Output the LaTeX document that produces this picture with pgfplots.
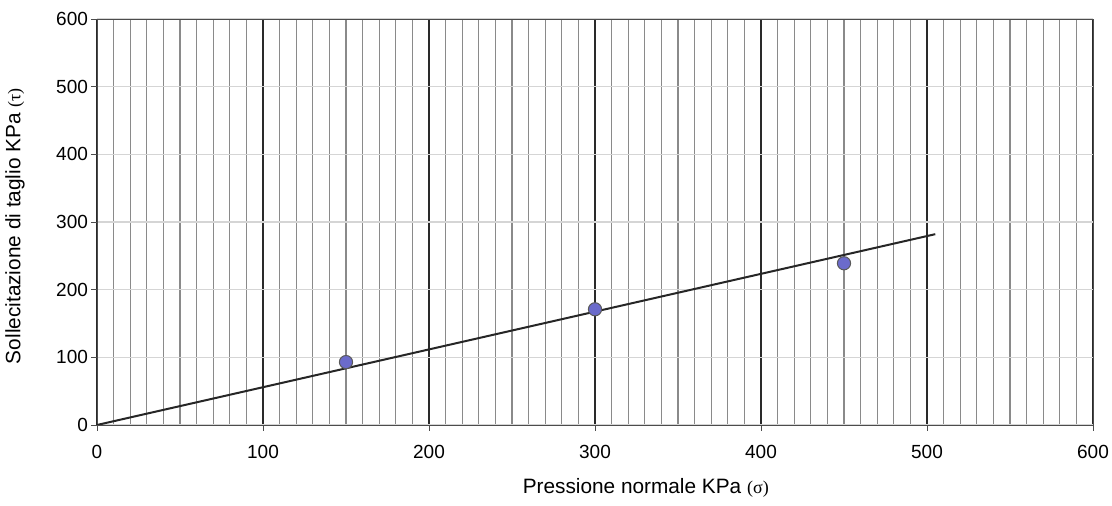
\documentclass[border=0pt]{standalone}
\usepackage{fontspec}
\setmainfont{Liberation Sans}
\newfontfamily\serifgreek{Liberation Serif}
\usepackage{pgfplots}
\pgfplotsset{compat=1.18}
\definecolor{minorgrid}{HTML}{8A8A8A}
\definecolor{majorgrid}{HTML}{2A2A2A}
\definecolor{hgrid}{HTML}{D5D5D5}
\definecolor{dotfill}{HTML}{6B6BCB}

\begin{document}
\begin{tikzpicture}
  \useasboundingbox (-48.5pt,-40.5pt) rectangle (507.5pt,212.5pt);
  \begin{axis}[
    at={(0,0)}, anchor=south west,
    scale only axis, width=498pt, height=203pt,
    xmin=0, xmax=600, ymin=0, ymax=600,
    xtick distance=100, ytick distance=100,
    minor x tick num=9,
    font=\fontsize{9.5}{11}\selectfont,
    /pgf/number format/assume math mode=true,
    tick align=outside, major tick length=3pt, minor tick length=0pt,
    tick style={black!70, thin},
    xtick pos=bottom, ytick pos=left,
    axis line style={black!70, thin},
    grid=both,
    minor x grid style={minorgrid, line width=0.6pt},
    x grid style={majorgrid, line width=0.8pt},
    y grid style={hgrid, line width=0.6pt},
    xlabel={Pressione normale KPa {\serifgreek\fontsize{9}{10}\selectfont(σ)}},
    ylabel={Sollecitazione di taglio KPa {\serifgreek\fontsize{9}{10}\selectfont(τ)}},
    label style={font=\fontsize{10.4}{12}\selectfont},
    xlabel style={at={(axis description cs:0.551,-0.155)}, anchor=center},
    ylabel style={at={(axis description cs:-0.0823,0.49)}, anchor=center},
    xticklabel style={yshift=-3.5pt},
    yticklabel style={xshift=2pt},
  ]
    \addplot[black!85, line width=1pt, no markers] coordinates {(0,0) (505,282)};
    \addplot[only marks, mark=*, mark size=3.3pt,
      mark options={fill=dotfill, draw=black!65, line width=0.5pt}]
      coordinates {(150,93) (300,171) (450,239)};
  \end{axis}
\end{tikzpicture}
\end{document}
